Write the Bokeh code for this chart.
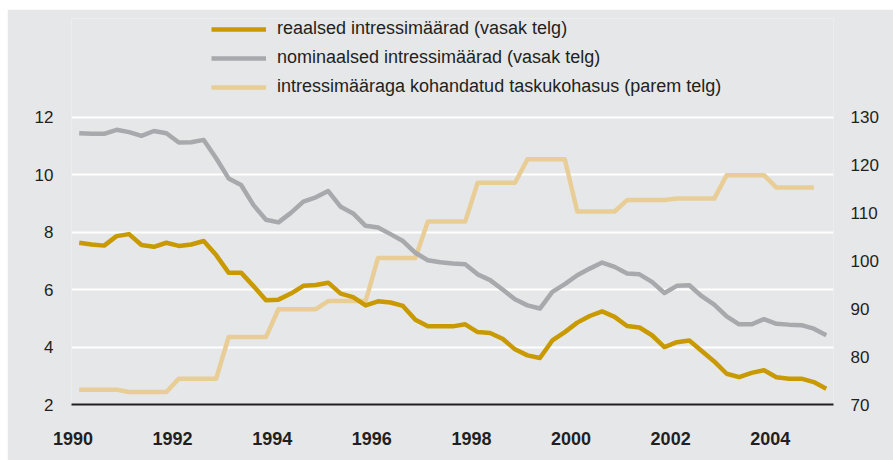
from bokeh.plotting import figure
from bokeh.models import Range1d, LinearAxis, FixedTicker, Legend, LegendItem
from bokeh.embed import file_html
from bokeh.resources import INLINE

# ---- data -------------------------------------------------------------
quarters = [f"{y}Q{q}" for y in range(1990, 2006) for q in range(1, 5)][:61]

real_rate = [7.63, 7.57, 7.53, 7.86, 7.93, 7.55, 7.49, 7.63, 7.52, 7.57, 7.69, 7.20, 6.59, 6.59, 6.12, 5.63,
             5.65, 5.86, 6.13, 6.16, 6.24, 5.86, 5.74, 5.45, 5.59, 5.55, 5.43, 4.95, 4.72, 4.72, 4.72,
             4.79, 4.52, 4.49, 4.29, 3.92, 3.71, 3.62, 4.23, 4.52, 4.85, 5.08, 5.24, 5.05, 4.73, 4.68,
             4.41, 4.00, 4.17, 4.23, 3.86, 3.50, 3.07, 2.95, 3.10, 3.19, 2.95, 2.90, 2.90, 2.78, 2.55]

nominal_rate = [11.44, 11.42, 11.42, 11.56, 11.48, 11.35, 11.52, 11.44, 11.12, 11.13, 11.21, 10.57, 9.87, 9.64, 8.94, 8.43,
                8.34, 8.67, 9.06, 9.21, 9.43, 8.88, 8.65, 8.22, 8.16, 7.93, 7.69, 7.28, 7.02, 6.95, 6.91,
                6.88, 6.53, 6.33, 6.00, 5.66, 5.45, 5.34, 5.92, 6.19, 6.50, 6.73, 6.94, 6.79, 6.56, 6.53,
                6.27, 5.88, 6.13, 6.15, 5.77, 5.48, 5.07, 4.79, 4.79, 4.97, 4.81, 4.78, 4.76, 4.64, 4.41]

affordability = [73.1, 73.1, 73.1, 73.1, 72.6, 72.6, 72.6, 72.6, 75.4, 75.4, 75.4, 75.4,
                 84.1, 84.1, 84.1, 84.1, 89.9, 89.9, 89.9, 89.9, 91.6, 91.6, 91.6, 91.6,
                 100.6, 100.6, 100.6, 100.6, 108.2, 108.2, 108.2, 108.2, 116.3, 116.3, 116.3, 116.3,
                 121.2, 121.2, 121.2, 121.2, 110.3, 110.3, 110.3, 110.3, 112.7, 112.7, 112.7, 112.7,
                 113.0, 113.0, 113.0, 113.0, 117.9, 117.9, 117.9, 117.9, 115.3, 115.3, 115.3, 115.3]

year_ticks = [1990, 1992, 1994, 1996, 1998, 2000, 2002, 2004]
left_ticks = [2, 4, 6, 8, 10, 12]
right_ticks = [70, 80, 90, 100, 110, 120, 130]

labels = ["reaalsed intressimäärad (vasak telg)",
          "nominaalsed intressimäärad (vasak telg)",
          "intressimääraga kohandatud taskukohasus (parem telg)"]

# ---- styles -----------------------------------------------------------
BG = "#e6e7e9"
GOLD = "#c99a00"
GREY = "#a8a9ac"
LIGHT = "#e8ce96"
TXT = "#231f20"
FONT = "Liberation Sans"


def qpos(label):
    return int(label[:4]) + (int(label[-1]) - 0.5) / 4


x = [qpos(s) for s in quarters]

# frame extends above the 12/130 gridline so the legend sits inside it
p = figure(width=886, height=451, output_backend="svg", toolbar_location=None,
           x_range=Range1d(1989.97, 2005.27), y_range=Range1d(2, 15.435),
           min_border_left=64, min_border_right=60, min_border_top=9, min_border_bottom=56,
           background_fill_color=BG, border_fill_color=BG, outline_line_color=None,
           margin=(9, 0, 0, 7))
p.extra_y_ranges = {"right": Range1d(70, 150.61)}

# axes
xa = p.xaxis[0]
xa.ticker = FixedTicker(ticks=year_ticks)
xa.major_tick_line_color = None
xa.minor_tick_line_color = None
xa.axis_line_color = TXT
xa.axis_line_width = 2
xa.major_label_text_font = FONT
xa.major_label_text_font_style = "bold"
xa.major_label_text_font_size = "18px"
xa.major_label_text_color = TXT
xa.major_label_standoff = 21

ya = p.yaxis[0]
ya.ticker = FixedTicker(ticks=left_ticks)
ya.major_tick_line_color = None
ya.minor_tick_line_color = None
ya.axis_line_color = None
ya.major_label_text_font = FONT
ya.major_label_text_font_size = "17px"
ya.major_label_text_color = TXT
ya.major_label_standoff = 12

ra = LinearAxis(y_range_name="right", ticker=FixedTicker(ticks=right_ticks))
ra.major_tick_line_color = None
ra.minor_tick_line_color = None
ra.axis_line_color = None
ra.major_label_text_font = FONT
ra.major_label_text_font_size = "17px"
ra.major_label_text_color = TXT
ra.major_label_standoff = 11
p.add_layout(ra, "right")

p.xgrid.grid_line_color = None
p.ygrid.ticker = FixedTicker(ticks=left_ticks)
p.ygrid.grid_line_color = "white"
p.ygrid.grid_line_width = 2

# lines
r3 = p.line(x[:len(affordability)], affordability, y_range_name="right",
            line_color=LIGHT, line_width=4.5, line_join="round")
r2 = p.line(x, nominal_rate, line_color=GREY, line_width=4.5, line_join="round")
r1 = p.line(x, real_rate, line_color=GOLD, line_width=4.5, line_join="round")

legend = Legend(items=[LegendItem(label=labels[0], renderers=[r1]),
                       LegendItem(label=labels[1], renderers=[r2]),
                       LegendItem(label=labels[2], renderers=[r3])],
                location=(140, 307), orientation="vertical",
                glyph_width=55, glyph_height=20, label_height=20,
                label_standoff=11, spacing=8, padding=0, margin=0,
                border_line_color=None, background_fill_alpha=0,
                label_text_font=FONT, label_text_font_size="18px",
                label_text_color=TXT)
p.add_layout(legend)

open("out.html", "w").write(file_html(p, INLINE))
